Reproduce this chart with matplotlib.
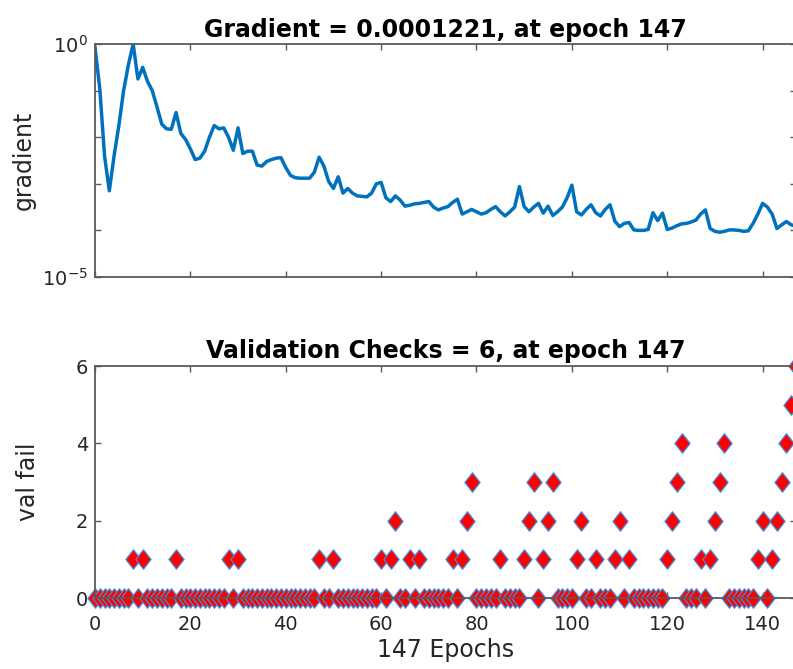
import matplotlib
matplotlib.use("Agg")  # headless
import matplotlib.pyplot as plt
import numpy as np
from matplotlib.path import Path

# epochs 0..147
epochs = np.arange(148)

# gradient as log10 values (one per epoch)
grad_log10 = [
    -0.08, -0.95, -2.40, -3.15, -2.40, -1.75, -1.00, -0.45, 0.00, -0.75,
    -0.50, -0.80, -1.00, -1.35, -1.72, -1.82, -1.83, -1.47, -1.92, -2.05,
    -2.25, -2.48, -2.45, -2.30, -2.00, -1.75, -1.82, -1.80, -2.00, -2.28,
    -1.80, -2.35, -2.30, -2.30, -2.60, -2.62, -2.52, -2.48, -2.45, -2.44,
    -2.65, -2.82, -2.87, -2.88, -2.88, -2.88, -2.75, -2.43, -2.62, -2.95,
    -3.10, -2.85, -3.20, -3.10, -3.20, -3.26, -3.27, -3.28, -3.20, -3.00,
    -2.97, -3.30, -3.38, -3.26, -3.35, -3.48, -3.46, -3.43, -3.42, -3.40,
    -3.38, -3.50, -3.56, -3.52, -3.49, -3.40, -3.33, -3.65, -3.60, -3.55,
    -3.60, -3.65, -3.62, -3.55, -3.49, -3.60, -3.69, -3.60, -3.50, -3.06,
    -3.49, -3.60, -3.50, -3.42, -3.63, -3.48, -3.68, -3.60, -3.50, -3.30,
    -3.03, -3.60, -3.67, -3.55, -3.45, -3.62, -3.69, -3.55, -3.45, -3.80,
    -3.92, -3.85, -3.83, -3.99, -4.00, -4.00, -3.98, -3.62, -3.79, -3.63,
    -3.98, -3.95, -3.90, -3.86, -3.85, -3.82, -3.78, -3.65, -3.56, -3.96,
    -4.02, -4.04, -4.02, -3.99, -3.99, -4.00, -4.02, -4.01, -3.85, -3.65,
    -3.42, -3.50, -3.65, -3.96, -3.88, -3.81, -3.88, -3.913,
]

# validation fail counter per epoch
val_fail = [
    0, 0, 0, 0, 0, 0, 0, 0, 1, 0,
    1, 0, 0, 0, 0, 0, 0, 1, 0, 0,
    0, 0, 0, 0, 0, 0, 0, 0, 1, 0,
    1, 0, 0, 0, 0, 0, 0, 0, 0, 0,
    0, 0, 0, 0, 0, 0, 0, 1, 0, 0,
    1, 0, 0, 0, 0, 0, 0, 0, 0, 0,
    1, 0, 1, 2, 0, 0, 1, 0, 1, 0,
    0, 0, 0, 0, 0, 1, 0, 1, 2, 3,
    0, 0, 0, 0, 0, 1, 0, 0, 0, 0,
    1, 2, 3, 0, 1, 2, 3, 0, 0, 0,
    0, 1, 2, 0, 0, 1, 0, 0, 0, 1,
    2, 0, 1, 0, 0, 0, 0, 0, 0, 0,
    1, 2, 3, 4, 0, 0, 0, 1, 0, 1,
    2, 3, 4, 0, 0, 0, 0, 0, 0, 1,
    2, 0, 1, 2, 3, 4, 5, 6,
]

x_ticks = [0, 20, 40, 60, 80, 100, 120, 140]
grad_ticks = [1e-5, 1e-4, 1e-3, 1e-2, 1e-1, 1e0]
grad_tick_labels = ["$10^{-5}$", "", "", "", "", "$10^{0}$"]
fail_ticks = [0, 2, 4, 6]

LINE_BLUE = "#0072BD"
AXIS_GRAY = "#5a5a5a"
TEXT_GRAY = "#262626"

# diamond a bit taller than wide, like MATLAB's
DIAMOND = Path([(0, 1), (0.78, 0), (0, -1), (-0.78, 0), (0, 1)],
               [Path.MOVETO, Path.LINETO, Path.LINETO, Path.LINETO, Path.CLOSEPOLY])


def style_axes(ax):
    for side in ["top", "bottom", "left", "right"]:
        ax.spines[side].set_color(AXIS_GRAY)
        ax.spines[side].set_linewidth(1.3)
    ax.tick_params(which="both", direction="in", top=True, right=True,
                   length=4, width=1.0, color=AXIS_GRAY,
                   labelsize=14, labelcolor=TEXT_GRAY)
    ax.tick_params(axis="x", pad=12)
    ax.tick_params(axis="y", pad=5)
    ax.tick_params(which="minor", length=0)


fig = plt.figure(figsize=(7.93, 6.69), dpi=100)

# axes run a few pixels past the right edge of the image (cropped, like the reference)
ax1 = fig.add_axes([95 / 793, 1 - 277 / 669, 701 / 793, 233 / 669])
ax2 = fig.add_axes([95 / 793, 1 - 598 / 669, 701 / 793, 232 / 669])

# gradient
ax1.semilogy(epochs, 10.0 ** np.array(grad_log10), color=LINE_BLUE, linewidth=2.5)
ax1.set_xlim(0, 147)
ax1.set_ylim(1e-5, 1e0)
ax1.set_yticks(grad_ticks)
ax1.set_yticklabels(grad_tick_labels)
ax1.set_xticks(x_ticks)
ax1.set_xticklabels([])
style_axes(ax1)
ax1.set_title("Gradient = 0.0001221, at epoch 147", fontsize=17,
              fontweight="bold", pad=5)
ax1.set_ylabel("gradient", fontsize=17, color=TEXT_GRAY)
ax1.yaxis.set_label_coords(-0.085, 0.5)

# validation checks
ax2.plot(epochs, val_fail, linestyle="none", marker=DIAMOND, markersize=14,
         markerfacecolor="#ff0000", markeredgecolor="#3f8fe0",
         markeredgewidth=0.9, clip_on=False)
ax2.set_xlim(0, 147)
ax2.set_ylim(0, 6)
ax2.set_yticks(fail_ticks)
ax2.set_xticks(x_ticks)
style_axes(ax2)
ax2.set_title("Validation Checks = 6, at epoch 147", fontsize=17,
              fontweight="bold", pad=6)
ax2.set_ylabel("val fail", fontsize=17, color=TEXT_GRAY)
ax2.yaxis.set_label_coords(-0.078, 0.5)
ax2.set_xlabel("147 Epochs", fontsize=17, color=TEXT_GRAY, labelpad=3)

fig.savefig("out.png", dpi=100)
plt.close(fig)
